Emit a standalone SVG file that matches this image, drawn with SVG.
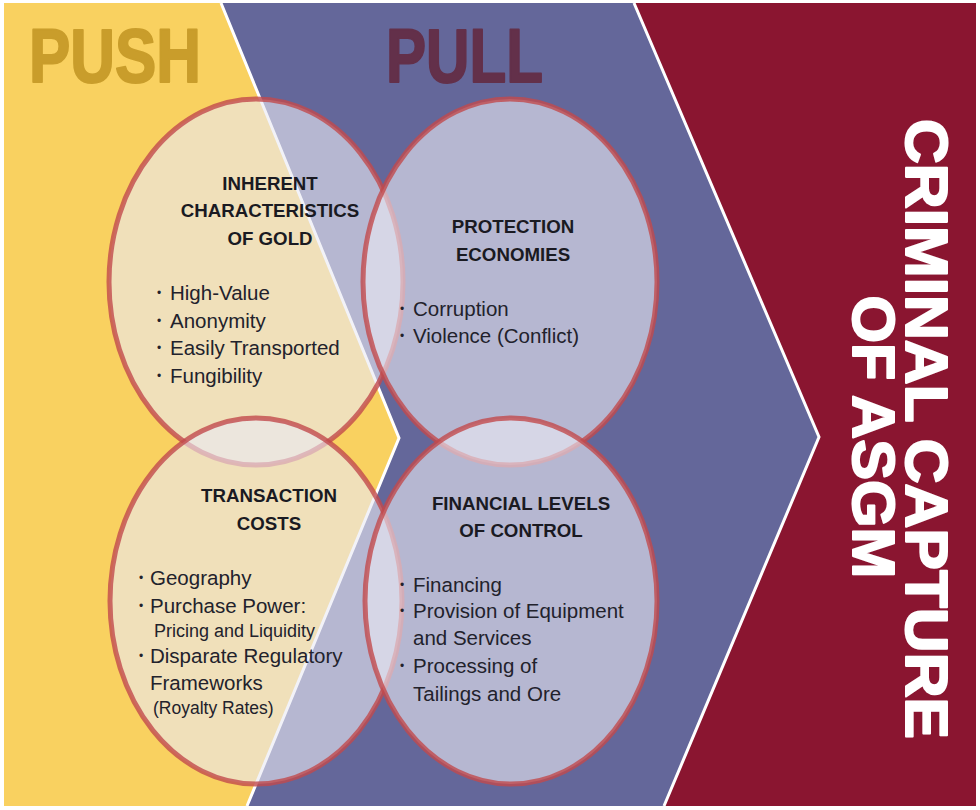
<svg xmlns="http://www.w3.org/2000/svg" width="980" height="810" viewBox="0 0 980 810">
  <style>
    .ell { fill: rgb(233,233,244); fill-opacity: 0.61; stroke: rgb(194,74,76); stroke-opacity: 0.8; stroke-width: 5; }
    .hd { font-family: "Liberation Sans", Arial, sans-serif; font-weight: bold; font-size: 18.7px; fill: #1a1a22; text-anchor: middle; }
    .bl { font-family: "Liberation Sans", Arial, sans-serif; font-size: 20.5px; fill: #22222c; }
    .sm { font-size: 18px; }
    .xs { font-size: 17.5px; }
    .dot { font-size: 12px; }
    .big { font-family: "Liberation Sans", Arial, sans-serif; font-weight: bold; stroke-width: 2; stroke-linejoin: round; }
    .sep { fill: none; stroke: #ffffff; stroke-width: 3; stroke-linejoin: miter; }
  </style>
  <rect x="0" y="0" width="980" height="810" fill="#ffffff"/>
  <g id="background">
    <polygon points="4,3 221,3 399,438 247,806 4,806" fill="#F9D160"/>
    <polygon points="221,3 634,3 819,437 664,806 247,806 399,438" fill="#64679A"/>
    <polygon points="634,3 976,3 976,806 664,806 819,437" fill="#8A1530"/>
    <polyline class="sep" points="221,3 399,438 247,806"/>
    <polyline class="sep" points="634,3 819,437 664,806"/>
  </g>
  <g id="push-label">
    <text class="big" x="29" y="82" font-size="76" fill="#C99D2B" stroke="#C99D2B" textLength="172" lengthAdjust="spacingAndGlyphs">PUSH</text>
  </g>
  <g id="pull-label">
    <text class="big" x="386" y="82" font-size="76" fill="#63304A" stroke="#63304A" textLength="157" lengthAdjust="spacingAndGlyphs">PULL</text>
  </g>
  <g id="criminal-capture">
    <text class="big" transform="translate(906,429) rotate(90)" text-anchor="middle" font-size="60" fill="#ffffff" stroke="#ffffff" textLength="620" lengthAdjust="spacingAndGlyphs">CRIMINAL CAPTURE</text>
    <text class="big" transform="translate(853,437) rotate(90)" text-anchor="middle" font-size="60" fill="#ffffff" stroke="#ffffff" textLength="283" lengthAdjust="spacingAndGlyphs">OF ASGM</text>
  </g>
  <g id="inherent-characteristics">
    <ellipse class="ell" cx="256" cy="282" rx="147" ry="183"/>
    <text class="hd" x="270" y="190">INHERENT</text>
    <text class="hd" x="270" y="217">CHARACTERISTICS</text>
    <text class="hd" x="270" y="245">OF GOLD</text>
    <text class="bl"><tspan class="dot" x="157" y="297">•</tspan><tspan x="170" y="300">High-Value</tspan></text>
    <text class="bl"><tspan class="dot" x="157" y="324.5">•</tspan><tspan x="170" y="327.5">Anonymity</tspan></text>
    <text class="bl"><tspan class="dot" x="157" y="352">•</tspan><tspan x="170" y="355">Easily Transported</tspan></text>
    <text class="bl"><tspan class="dot" x="157" y="379.5">•</tspan><tspan x="170" y="382.5">Fungibility</tspan></text>
  </g>
  <g id="protection-economies">
    <ellipse class="ell" cx="510" cy="282" rx="147" ry="183"/>
    <text class="hd" x="513" y="233">PROTECTION</text>
    <text class="hd" x="513" y="261">ECONOMIES</text>
    <text class="bl"><tspan class="dot" x="400" y="313">•</tspan><tspan x="413" y="316">Corruption</tspan></text>
    <text class="bl"><tspan class="dot" x="400" y="340">•</tspan><tspan x="413" y="343">Violence (Conflict)</tspan></text>
  </g>
  <g id="transaction-costs">
    <ellipse class="ell" cx="256" cy="601" rx="146" ry="183"/>
    <text class="hd" x="269" y="502">TRANSACTION</text>
    <text class="hd" x="269" y="530">COSTS</text>
    <text class="bl"><tspan class="dot" x="139" y="582">•</tspan><tspan x="150" y="585">Geography</tspan></text>
    <text class="bl"><tspan class="dot" x="139" y="610">•</tspan><tspan x="150" y="613">Purchase Power:</tspan></text>
    <text class="bl sm" x="154" y="637">Pricing and Liquidity</text>
    <text class="bl"><tspan class="dot" x="139" y="660">•</tspan><tspan x="150" y="663">Disparate Regulatory</tspan></text>
    <text class="bl" x="150" y="690">Frameworks</text>
    <text class="bl xs" x="153" y="714">(Royalty Rates)</text>
  </g>
  <g id="financial-levels">
    <ellipse class="ell" cx="511" cy="601" rx="146" ry="183"/>
    <text class="hd" x="521" y="510">FINANCIAL LEVELS</text>
    <text class="hd" x="521" y="537">OF CONTROL</text>
    <text class="bl"><tspan class="dot" x="400" y="589">•</tspan><tspan x="413" y="592">Financing</tspan></text>
    <text class="bl"><tspan class="dot" x="400" y="615">•</tspan><tspan x="413" y="618">Provision of Equipment</tspan></text>
    <text class="bl" x="413" y="645">and Services</text>
    <text class="bl"><tspan class="dot" x="400" y="670">•</tspan><tspan x="413" y="673">Processing of</tspan></text>
    <text class="bl" x="413" y="701">Tailings and Ore</text>
  </g>
</svg>
